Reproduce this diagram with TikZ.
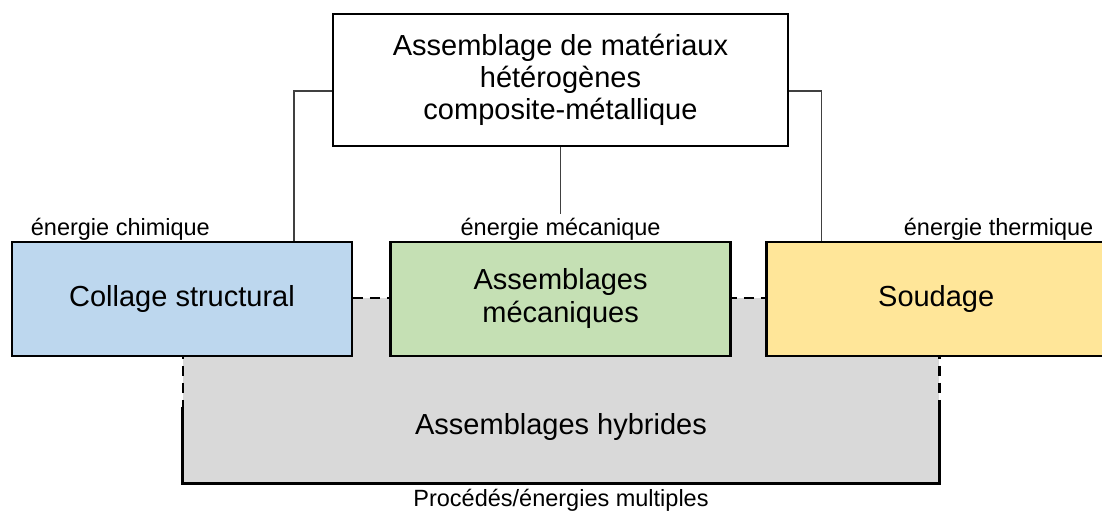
\documentclass[tikz,border=0pt]{standalone}
\usepackage{fontspec}
\setmainfont{Liberation Sans}
\usetikzlibrary{positioning}
\definecolor{collblue}{HTML}{BDD7EE}
\definecolor{mecagreen}{HTML}{C5E0B4}
\definecolor{soudyellow}{HTML}{FFE699}
\definecolor{hybgrey}{HTML}{D9D9D9}

\begin{document}
\begin{tikzpicture}[x=1pt, y=-1pt,
    box/.style={rectangle,draw=black,line width=2.6pt,fill=white,
      inner sep=4pt, minimum width=340pt, minimum height=114pt,
      font=\fontsize{29}{33}\selectfont},
    lbl/.style={inner sep=0pt, font=\fontsize{23.5}{27}\selectfont},
    link/.style={draw=black!75, line width=1.3pt},
    edge/.style={line width=3pt},
    gap/.style={line width=2.6pt, dash pattern=on 10pt off 7pt},
    every node/.style={align=center}]

  \useasboundingbox (0,0) rectangle (1102,513);

  \newcommand{\sep}{36pt}
  % hybrid box behind the three process boxes
  \node[rectangle,fill=hybgrey,minimum width=756pt,minimum height=185pt,
    inner sep=0pt] (hyb) at (561,390.5) {};
  \node[font=\fontsize{29}{33}\selectfont] (hybtxt) at ([yshift=-36pt]hyb.center)
    {Assemblages hybrides};
  \draw[gap] (hyb.north west) -- (hyb.north east);
  \draw[edge] (hyb.south west) ++(0,-76) coordinate (hl) -- (hyb.south west)
    -- (hyb.south east) -- ++(0,-76) coordinate (hr);
  \draw[gap] (hyb.north west) -- (hl);
  \draw[gap] (hyb.north east) -- (hr);

  \node[box,fill=collblue] (coll) at (182,299) {Collage structural};
  \node[box,fill=mecagreen,right=\sep of coll] (meca) {Assemblages\\mécaniques};
  \node[box,fill=soudyellow,right=33pt of meca] (soud) {Soudage};
  \node[box,minimum width=455pt,minimum height=132pt,
    font=\fontsize{29}{32}\selectfont] (top) at (560.5,80)
    {Assemblage de matériaux\\hétérogènes\\composite-métallique};

  \node[lbl,above right=0pt and 20pt of coll.north west] (lchim) {énergie chimique};
  \node[lbl,above=0pt of meca.north] (lmeca) {énergie mécanique};
  \node[lbl,above left=0pt and 14pt of soud.north east] (ltherm) {énergie thermique};
  \node[lbl,below=6pt of hyb.south] (lmult) {Procédés/énergies multiples};

  \path[link] ([yshift=-11pt]top.west) -| ([xshift=112pt]coll.north);
  \path[link] ([yshift=-11pt]top.east) -| ([xshift=-115pt]soud.north);
  \path[link,shorten >=4pt] (top.south) -- (top.south |- lmeca.north);

\end{tikzpicture}
\end{document}
